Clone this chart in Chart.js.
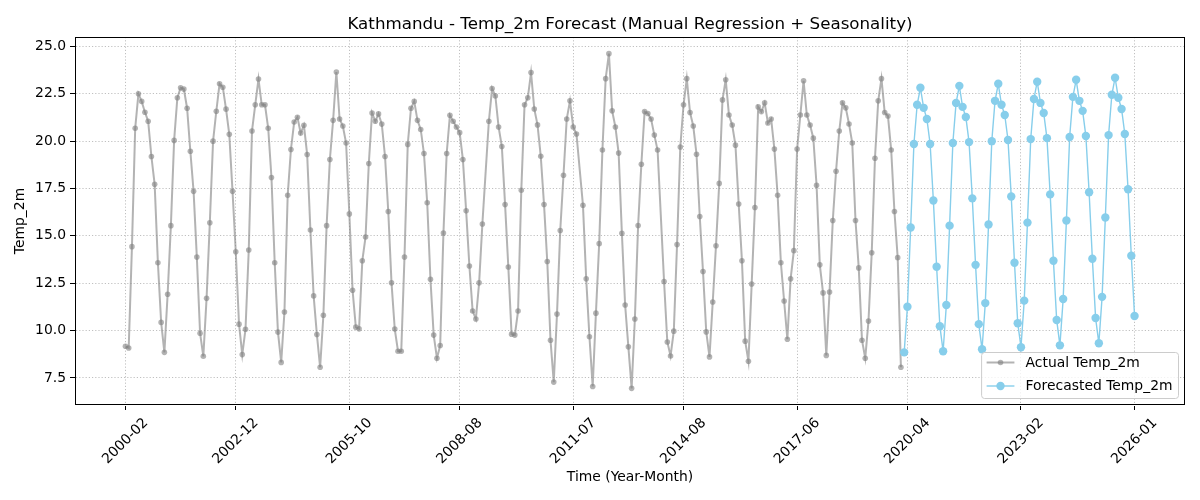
<!DOCTYPE html>
<html>
<head>
<meta charset="utf-8">
<title>Kathmandu - Temp_2m Forecast</title>
<script src="https://cdn.jsdelivr.net/npm/chart.js@4.4.1/dist/chart.umd.min.js"></script>
<style>
    body { margin: 0; background: #fff; }
    #wrap { width: 1200px; height: 500px; }
</style>
</head>
<body>
<div id="wrap"><canvas id="forecastChart"></canvas></div>
<script>
// monthly rows: actual 0..239, forecast 240..311 (null = no marker, line passes through)
const actualTemp = [
    9.17, 9.08, 14.43, 20.68, 22.50, 22.10, 21.53, 21.05, 19.19, 17.72,
    13.58, 10.43, 8.85, 11.92, 15.54, 20.04, 22.29, 22.82, 22.75, 21.74,
    19.47, 17.35, 13.88, 9.86, 8.64, 11.70, 15.69, 20.00, 21.58, 23.03,
    22.85, 21.69, 20.36, 17.35, 14.16, 10.34, 8.73, 10.07, 14.25, 20.54,
    21.92, 23.28, 21.92, 21.92, 20.68, 18.08, 13.58, 9.92, 8.32, 10.98,
    17.14, 19.56, 21.01, 21.26, 20.43, 20.84, 19.30, 15.31, 11.83, 9.79,
    8.06, 10.81, 15.54, 19.03, 21.10, 23.65, 21.17, 20.80, 19.90, 16.16,
    12.13, 10.18, 10.09, 13.69, 14.94, 18.82, 21.49, 21.05, 21.44, 20.90,
    19.19, 16.29, 12.52, 10.08, 8.91, 8.91, 13.88, 19.83, 21.74, 22.10,
    21.10, 20.62, 19.35, 16.75, 12.71, 9.76, 8.54, 9.21, 15.15, 19.35,
    21.37, 21.05, 20.75, 20.45, 19.03, 16.32, 13.41, 11.03, 10.61, 12.52,
    15.63, null, 21.05, 22.78, 22.39, 20.75, 19.72, 16.65, 13.36, 9.81,
    9.76, 11.03, 17.41, 21.92, 22.29, 23.62, 21.70, 20.86, 19.20, 16.66,
    13.65, 9.49, 7.28, 10.87, 15.28, 18.20, 21.17, 22.13, 20.75, 20.38,
    null, 16.62, 12.73, 9.67, 7.05, 10.92, 14.59, 19.53, 23.30, 24.62,
    21.60, 20.75, 19.37, 15.14, 11.35, 9.14, 6.95, 10.61, 15.55, 18.78,
    21.56, 21.46, 21.17, 20.32, 19.53, null, 12.59, 9.40, 8.66, 9.97,
    14.54, 19.69, 21.92, 23.30, 21.51, 20.80, 19.31, 16.02, 13.12, 9.93,
    8.61, 11.51, 14.48, 17.77, 22.18, 23.24, 21.38, 20.85, 19.79, 16.68,
    13.69, 9.44, 8.38, 12.46, 16.50, 21.81, 21.56, 22.02, 20.96, 21.17,
    19.58, 17.14, 13.58, 11.56, 9.54, 12.73, 14.22, 19.58, 21.38, 23.19,
    21.38, 20.85, 20.16, 17.67, 13.47, 11.99, 8.69, 12.04, 15.81, 18.41,
    20.54, 22.02, 21.76, 20.91, 19.90, 15.81, 13.31, 9.49, 8.54, 10.50,
    14.11, 19.10, 22.13, 23.30, 21.51, 21.33, 19.53, 16.29, 13.85, 8.06
];

const forecastTemp = [
    8.85, 11.26, 15.44, 19.85, 21.92, 22.82, 21.76, 21.17, 19.85, 16.87, 13.37, 10.23,
    8.91, 11.35, 15.54, 19.90, 22.02, 22.92, 21.81, 21.28, 19.95, 16.98, 13.47, 10.34,
    9.01, 11.45, 15.60, 20.00, 22.13, 23.03, 21.92, 21.38, 20.06, 17.08, 13.58, 10.39,
    9.12, 11.58, 15.70, 20.11, 22.23, 23.14, 22.02, 21.49, 20.16, 17.19, 13.69, 10.56,
    9.22, 11.67, 15.81, 20.22, 22.34, 23.24, 22.13, 21.60, 20.27, 17.30, 13.79, 10.66,
    9.33, 11.78, 15.97, 20.32, 22.45, 23.35, 22.29, 21.70, 20.38, 17.46, 13.95, 10.77
];

const xTickPos = [0, 34, 69, 103, 138, 172, 207, 241, 276, 311];
const xTickLabels = ['2000-02', '2002-12', '2005-10', '2008-08', '2011-07',
                     '2014-08', '2017-06', '2020-04', '2023-02', '2026-01'];
const yTicks = [7.5, 10.0, 12.5, 15.0, 17.5, 20.0, 22.5, 25.0];

const chartTitle = 'Kathmandu - Temp_2m Forecast (Manual Regression + Seasonality)';
const legendNames = ['Actual Temp_2m', 'Forecasted Temp_2m'];

const FONT = '"DejaVu Sans", "Liberation Sans", sans-serif';
const GRAY = 'rgba(128,128,128,0.6)';
const SKY = '#87ceeb';

document.addEventListener('DOMContentLoaded', function() {
    const actualPoints = actualTemp.map((v, i) => ({ x: i, y: v }));
    const forecastPoints = forecastTemp.map((v, i) => ({ x: actualTemp.length + i, y: v }));

    // frame, title, rotated x labels and legend drawn the matplotlib way
    const mplDecor = {
        id: 'mplDecor',
        afterDraw(chart) {
            const c = chart.ctx;
            const area = chart.chartArea;
            const xs = chart.scales.x;

            c.save();
            c.strokeStyle = '#000';
            c.lineWidth = 1;
            c.strokeRect(Math.round(area.left) + 0.5, Math.round(area.top) + 0.5,
                Math.round(area.right - area.left) - 1, Math.round(area.bottom - area.top) - 1);

            c.fillStyle = '#000';
            c.font = '16.7px ' + FONT;
            c.textAlign = 'center';
            c.textBaseline = 'alphabetic';
            c.fillText(chartTitle, (area.left + area.right) / 2, area.top - 8.5);

            c.font = '13.9px ' + FONT;
            c.textBaseline = 'middle';
            xTickPos.forEach((p, k) => {
                const label = xTickLabels[k];
                const w = c.measureText(label).width;
                const half = (w + 16) * Math.SQRT1_2 / 2;
                c.save();
                c.translate(xs.getPixelForValue(p), area.bottom + 10 + half);
                c.rotate(-Math.PI / 4);
                c.fillText(label, 0, 0);
                c.restore();
            });

            // legend, lower right
            const textW = Math.max(...legendNames.map(n => c.measureText(n).width));
            const right = area.right - 7;
            const bottom = area.bottom - 7;
            const boxW = textW + 50;
            const boxH = 46;
            const left = right - boxW;
            const top = bottom - boxH;
            c.beginPath();
            c.roundRect(left + 0.5, top + 0.5, boxW, boxH, 3);
            c.fillStyle = 'rgba(255,255,255,0.8)';
            c.fill();
            c.strokeStyle = '#cccccc';
            c.lineWidth = 1;
            c.stroke();

            const rows = [
                { y: top + 10.5, color: GRAY, lw: 2, r: 2.8 },
                { y: top + 34, color: SKY, lw: 1.4, r: 4.2 }
            ];
            rows.forEach((row, k) => {
                c.strokeStyle = row.color;
                c.lineWidth = row.lw;
                c.beginPath();
                c.moveTo(left + 5.5, row.y);
                c.lineTo(left + 33.3, row.y);
                c.stroke();
                c.fillStyle = row.color;
                c.beginPath();
                c.arc(left + 19.4, row.y, row.r, 0, Math.PI * 2);
                c.fill();
                c.fillStyle = '#000';
                c.textAlign = 'left';
                c.fillText(legendNames[k], left + 44.5, row.y + 0.5);
            });
            c.restore();
        }
    };

    const gridStyle = {
        color: 'rgba(176,176,176,1)',
        lineWidth: 0.8,
        tickColor: '#000',
        tickLength: 5,
        tickWidth: 1
    };
    // the border colour is transparent: the frame is drawn by the plugin, dash is for the grid
    const borderStyle = { display: true, color: 'rgba(0,0,0,0)', width: 1, dash: [1.2, 2] };

    const ctx = document.getElementById('forecastChart').getContext('2d');
    new Chart(ctx, {
        type: 'line',
        data: {
            datasets: [{
                label: legendNames[1],
                data: forecastPoints,
                borderColor: SKY,
                backgroundColor: SKY,
                borderWidth: 1.4,
                pointRadius: 4.2,
                pointHoverRadius: 4.2,
                pointBorderWidth: 0,
                pointBackgroundColor: SKY,
                tension: 0,
                order: 0
            }, {
                label: legendNames[0],
                data: actualPoints,
                borderColor: GRAY,
                backgroundColor: GRAY,
                borderWidth: 2,
                pointRadius: 2.8,
                pointHoverRadius: 2.8,
                pointBorderWidth: 0,
                pointBackgroundColor: GRAY,
                spanGaps: true,
                tension: 0,
                order: 1
            }]
        },
        options: {
            responsive: true,
            maintainAspectRatio: false,
            devicePixelRatio: 1,
            animation: false,
            events: [],
            layout: { padding: { top: 37, right: 15, bottom: 0, left: 0 } },
            plugins: {
                legend: { display: false },
                tooltip: { enabled: false },
                title: { display: false }
            },
            scales: {
                x: {
                    type: 'linear',
                    min: -15.55,
                    max: 326.55,
                    afterBuildTicks: (scale) => {
                        scale.ticks = xTickPos.map(v => ({ value: v }));
                    },
                    afterFit: (scale) => { scale.height = 95; },
                    ticks: { display: false },
                    grid: gridStyle,
                    border: borderStyle,
                    title: {
                        display: true,
                        text: 'Time (Year-Month)',
                        color: '#000',
                        font: { family: FONT, size: 13.9 },
                        padding: { top: 0, bottom: 14 }
                    }
                },
                y: {
                    type: 'linear',
                    min: 6.07,
                    max: 25.5,
                    afterBuildTicks: (scale) => {
                        scale.ticks = yTicks.map(v => ({ value: v }));
                    },
                    afterFit: (scale) => { scale.width = 75; },
                    ticks: {
                        color: '#000',
                        padding: 4,
                        font: { family: FONT, size: 13.9 },
                        callback: (v) => Number(v).toFixed(1)
                    },
                    grid: gridStyle,
                    border: borderStyle,
                    title: {
                        display: true,
                        text: 'Temp_2m',
                        color: '#000',
                        font: { family: FONT, size: 13.9 },
                        padding: { top: 12, bottom: 0 }
                    }
                }
            }
        },
        plugins: [mplDecor]
    });
});
</script>
</body>
</html>
